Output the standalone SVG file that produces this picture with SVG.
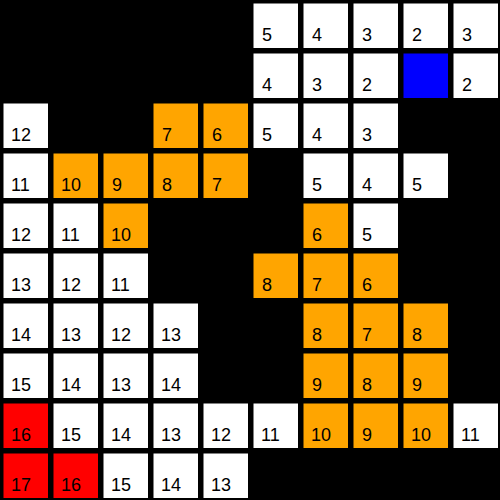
<svg xmlns="http://www.w3.org/2000/svg" width="500" height="500" viewBox="0 0 500 500">
<style>
.w{fill:#ffffff}.o{fill:#ffa500}.b{fill:#0000ff}.r{fill:#ff0000}
text{font-family:"Liberation Sans",Arial,sans-serif;font-size:18px;fill:#000}
</style>
<rect x="0" y="0" width="500" height="500" fill="#000"/>
<g id="row0">
<rect class="w" x="253.5" y="3.5" width="44.5" height="44.5"/><text x="262" y="40.5">5</text>
<rect class="w" x="303.5" y="3.5" width="44.5" height="44.5"/><text x="312" y="40.5">4</text>
<rect class="w" x="353.5" y="3.5" width="44.5" height="44.5"/><text x="362" y="40.5">3</text>
<rect class="w" x="403.5" y="3.5" width="44.5" height="44.5"/><text x="412" y="40.5">2</text>
<rect class="w" x="453.5" y="3.5" width="44.5" height="44.5"/><text x="462" y="40.5">3</text>
</g>
<g id="row1">
<rect class="w" x="253.5" y="53.5" width="44.5" height="44.5"/><text x="262" y="90.5">4</text>
<rect class="w" x="303.5" y="53.5" width="44.5" height="44.5"/><text x="312" y="90.5">3</text>
<rect class="w" x="353.5" y="53.5" width="44.5" height="44.5"/><text x="362" y="90.5">2</text>
<rect class="b" x="403.5" y="53.5" width="44.5" height="44.5"/>
<rect class="w" x="453.5" y="53.5" width="44.5" height="44.5"/><text x="462" y="90.5">2</text>
</g>
<g id="row2">
<rect class="w" x="3.5" y="103.5" width="44.5" height="44.5"/><text x="11" y="140.5">12</text>
<rect class="o" x="153.5" y="103.5" width="44.5" height="44.5"/><text x="162" y="140.5">7</text>
<rect class="o" x="203.5" y="103.5" width="44.5" height="44.5"/><text x="212" y="140.5">6</text>
<rect class="w" x="253.5" y="103.5" width="44.5" height="44.5"/><text x="262" y="140.5">5</text>
<rect class="w" x="303.5" y="103.5" width="44.5" height="44.5"/><text x="312" y="140.5">4</text>
<rect class="w" x="353.5" y="103.5" width="44.5" height="44.5"/><text x="362" y="140.5">3</text>
</g>
<g id="row3">
<rect class="w" x="3.5" y="153.5" width="44.5" height="44.5"/><text x="11" y="190.5">11</text>
<rect class="o" x="53.5" y="153.5" width="44.5" height="44.5"/><text x="61" y="190.5">10</text>
<rect class="o" x="103.5" y="153.5" width="44.5" height="44.5"/><text x="112" y="190.5">9</text>
<rect class="o" x="153.5" y="153.5" width="44.5" height="44.5"/><text x="162" y="190.5">8</text>
<rect class="o" x="203.5" y="153.5" width="44.5" height="44.5"/><text x="212" y="190.5">7</text>
<rect class="w" x="303.5" y="153.5" width="44.5" height="44.5"/><text x="312" y="190.5">5</text>
<rect class="w" x="353.5" y="153.5" width="44.5" height="44.5"/><text x="362" y="190.5">4</text>
<rect class="w" x="403.5" y="153.5" width="44.5" height="44.5"/><text x="412" y="190.5">5</text>
</g>
<g id="row4">
<rect class="w" x="3.5" y="203.5" width="44.5" height="44.5"/><text x="11" y="240.5">12</text>
<rect class="w" x="53.5" y="203.5" width="44.5" height="44.5"/><text x="61" y="240.5">11</text>
<rect class="o" x="103.5" y="203.5" width="44.5" height="44.5"/><text x="111" y="240.5">10</text>
<rect class="o" x="303.5" y="203.5" width="44.5" height="44.5"/><text x="312" y="240.5">6</text>
<rect class="w" x="353.5" y="203.5" width="44.5" height="44.5"/><text x="362" y="240.5">5</text>
</g>
<g id="row5">
<rect class="w" x="3.5" y="253.5" width="44.5" height="44.5"/><text x="11" y="290.5">13</text>
<rect class="w" x="53.5" y="253.5" width="44.5" height="44.5"/><text x="61" y="290.5">12</text>
<rect class="w" x="103.5" y="253.5" width="44.5" height="44.5"/><text x="111" y="290.5">11</text>
<rect class="o" x="253.5" y="253.5" width="44.5" height="44.5"/><text x="262" y="290.5">8</text>
<rect class="o" x="303.5" y="253.5" width="44.5" height="44.5"/><text x="312" y="290.5">7</text>
<rect class="o" x="353.5" y="253.5" width="44.5" height="44.5"/><text x="362" y="290.5">6</text>
</g>
<g id="row6">
<rect class="w" x="3.5" y="303.5" width="44.5" height="44.5"/><text x="11" y="340.5">14</text>
<rect class="w" x="53.5" y="303.5" width="44.5" height="44.5"/><text x="61" y="340.5">13</text>
<rect class="w" x="103.5" y="303.5" width="44.5" height="44.5"/><text x="111" y="340.5">12</text>
<rect class="w" x="153.5" y="303.5" width="44.5" height="44.5"/><text x="161" y="340.5">13</text>
<rect class="o" x="303.5" y="303.5" width="44.5" height="44.5"/><text x="312" y="340.5">8</text>
<rect class="o" x="353.5" y="303.5" width="44.5" height="44.5"/><text x="362" y="340.5">7</text>
<rect class="o" x="403.5" y="303.5" width="44.5" height="44.5"/><text x="412" y="340.5">8</text>
</g>
<g id="row7">
<rect class="w" x="3.5" y="353.5" width="44.5" height="44.5"/><text x="11" y="390.5">15</text>
<rect class="w" x="53.5" y="353.5" width="44.5" height="44.5"/><text x="61" y="390.5">14</text>
<rect class="w" x="103.5" y="353.5" width="44.5" height="44.5"/><text x="111" y="390.5">13</text>
<rect class="w" x="153.5" y="353.5" width="44.5" height="44.5"/><text x="161" y="390.5">14</text>
<rect class="o" x="303.5" y="353.5" width="44.5" height="44.5"/><text x="312" y="390.5">9</text>
<rect class="o" x="353.5" y="353.5" width="44.5" height="44.5"/><text x="362" y="390.5">8</text>
<rect class="o" x="403.5" y="353.5" width="44.5" height="44.5"/><text x="412" y="390.5">9</text>
</g>
<g id="row8">
<rect class="r" x="3.5" y="403.5" width="44.5" height="44.5"/><text x="11" y="440.5">16</text>
<rect class="w" x="53.5" y="403.5" width="44.5" height="44.5"/><text x="61" y="440.5">15</text>
<rect class="w" x="103.5" y="403.5" width="44.5" height="44.5"/><text x="111" y="440.5">14</text>
<rect class="w" x="153.5" y="403.5" width="44.5" height="44.5"/><text x="161" y="440.5">13</text>
<rect class="w" x="203.5" y="403.5" width="44.5" height="44.5"/><text x="211" y="440.5">12</text>
<rect class="w" x="253.5" y="403.5" width="44.5" height="44.5"/><text x="261" y="440.5">11</text>
<rect class="o" x="303.5" y="403.5" width="44.5" height="44.5"/><text x="311" y="440.5">10</text>
<rect class="o" x="353.5" y="403.5" width="44.5" height="44.5"/><text x="362" y="440.5">9</text>
<rect class="o" x="403.5" y="403.5" width="44.5" height="44.5"/><text x="411" y="440.5">10</text>
<rect class="w" x="453.5" y="403.5" width="44.5" height="44.5"/><text x="461" y="440.5">11</text>
</g>
<g id="row9">
<rect class="r" x="3.5" y="453.5" width="44.5" height="44.5"/><text x="11" y="490.5">17</text>
<rect class="r" x="53.5" y="453.5" width="44.5" height="44.5"/><text x="61" y="490.5">16</text>
<rect class="w" x="103.5" y="453.5" width="44.5" height="44.5"/><text x="111" y="490.5">15</text>
<rect class="w" x="153.5" y="453.5" width="44.5" height="44.5"/><text x="161" y="490.5">14</text>
<rect class="w" x="203.5" y="453.5" width="44.5" height="44.5"/><text x="211" y="490.5">13</text>
</g>
</svg>
